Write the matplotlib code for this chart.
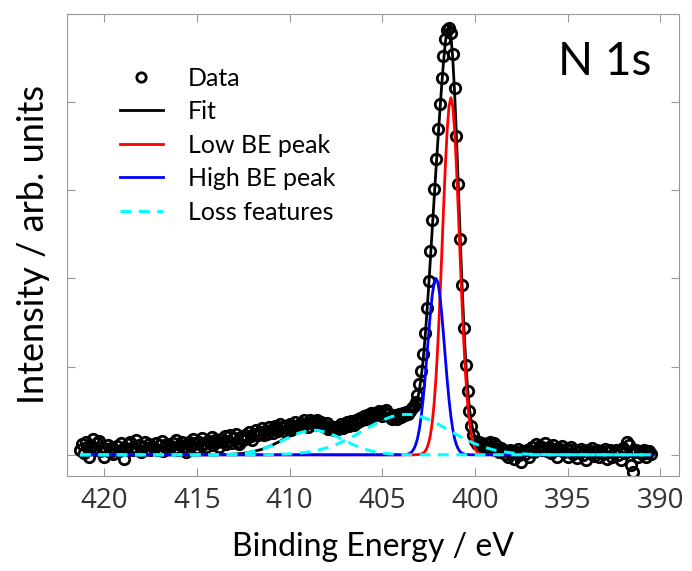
import numpy as np
import matplotlib
matplotlib.use('Agg')
import matplotlib.pyplot as plt

# measured spectrum, 0.1 eV steps from 421.3 down to 390.5 eV
energy = np.round(np.arange(421.3, 390.45, -0.1), 1)
counts = [
    0.05, 0.12, 0.02, 0.15, 0.09, -0.03, 0.10, 0.18, 0.08, 0.13,
    0.16, 0.04, 0.09, -0.02, 0.07, 0.11, 0.03, 0.08, 0.01, 0.06,
    0.10, 0.04, 0.13, 0.07, -0.05, 0.08, 0.12, 0.15, 0.05, 0.09,
    0.17, 0.06, 0.11, 0.03, 0.09, 0.14, 0.07, 0.12, 0.05, 0.10,
    0.08, 0.13, 0.06, 0.11, 0.16, 0.04, 0.09, 0.12, 0.07, 0.10,
    0.13, 0.08, 0.17, 0.05, 0.11, 0.14, 0.09, 0.03, 0.12, 0.15,
    0.10, 0.18, 0.13, 0.08, 0.15, 0.11, 0.19, 0.12, 0.09, 0.16,
    0.13, 0.20, 0.11, 0.17, 0.14, 0.09, 0.18, 0.15, 0.21, 0.12,
    0.16, 0.22, 0.13, 0.19, 0.24, 0.15, 0.12, 0.20, 0.17, 0.23,
    0.19, 0.26, 0.21, 0.17, 0.24, 0.28, 0.22, 0.25, 0.30, 0.23,
    0.27, 0.24, 0.31, 0.28, 0.25, 0.33, 0.30, 0.27, 0.35, 0.31,
    0.27, 0.33, 0.29, 0.35, 0.28, 0.32, 0.37, 0.31, 0.34, 0.36,
    0.33, 0.39, 0.35, 0.32, 0.40, 0.36, 0.38, 0.34, 0.39, 0.35,
    0.37, 0.33, 0.31, 0.36, 0.29, 0.33, 0.30, 0.28, 0.32, 0.29,
    0.31, 0.35, 0.30, 0.34, 0.37, 0.33, 0.38, 0.36, 0.34, 0.39,
    0.37, 0.42, 0.39, 0.44, 0.41, 0.45, 0.42, 0.47, 0.44, 0.48,
    0.46, 0.50, 0.47, 0.44, 0.49, 0.51, 0.46, 0.43, 0.41, 0.45,
    0.44, 0.41, 0.46, 0.43, 0.47, 0.45, 0.49, 0.46, 0.50, 0.53,
    0.55, 0.60, 0.68, 0.80, 0.95, 1.14, 1.38, 1.66, 1.97, 2.31,
    2.66, 3.02, 3.36, 3.69, 3.98, 4.27, 4.52, 4.72, 4.82, 4.84,
    4.78, 4.55, 4.16, 3.62, 3.07, 2.45, 1.93, 1.44, 1.02, 0.72,
    0.50, 0.33, 0.22, 0.16, 0.12, 0.14, 0.10, 0.13, 0.07, 0.09,
    0.12, 0.15, 0.09, 0.13, 0.06, 0.10, 0.03, 0.08, 0.05, 0.01,
    0.04, -0.03, 0.06, 0.02, -0.05, 0.03, 0.07, 0.00, -0.08, 0.04,
    0.01, 0.06, -0.02, 0.04, 0.09, 0.03, 0.12, 0.07, 0.10, 0.05,
    0.08, 0.13, 0.04, 0.09, 0.02, 0.11, 0.06, -0.03, 0.08, 0.05,
    0.10, 0.03, 0.07, -0.02, 0.05, 0.09, 0.01, 0.06, -0.04, 0.03,
    0.07, 0.00, 0.04, -0.06, 0.05, 0.02, 0.08, -0.01, 0.03, 0.06,
    -0.02, 0.04, 0.01, 0.07, -0.05, 0.03, 0.05, -0.03, 0.02, 0.06,
    0.00, 0.04, -0.06, 0.08, 0.02, 0.14, 0.11, -0.12, -0.19, 0.03,
    0.05, -0.02, 0.04, 0.01, 0.06, -0.03, 0.02, 0.04, 0.01,
]

# fit envelope
fit_e = [421.3, 414.5, 414.0, 413.5, 413.0, 412.5, 412.0, 411.5, 411.0, 410.5,
         410.0, 409.5, 409.0, 408.5, 408.0, 407.5, 407.0, 406.5, 406.0, 405.5,
         405.0, 404.5,
         404.0, 403.9, 403.8, 403.7, 403.6, 403.5, 403.4, 403.3, 403.2, 403.1,
         403.0, 402.9, 402.8, 402.7, 402.6, 402.5, 402.4, 402.3, 402.2, 402.1,
         402.0, 401.9, 401.8, 401.7, 401.6, 401.5, 401.4, 401.3, 401.2, 401.1,
         401.0, 400.9, 400.8, 400.7, 400.6, 400.5, 400.4, 400.3, 400.2, 400.1,
         400.0, 399.9, 399.8, 399.7, 399.6, 399.5, 399.4, 399.3, 399.2, 399.1,
         399.0, 398.5, 398.0, 397.5, 397.0, 396.5, 396.0, 390.5]
fit_y = [0.0, 0.0, 0.001, 0.003, 0.008, 0.017, 0.035, 0.062, 0.103, 0.155,
         0.212, 0.266, 0.307, 0.329, 0.334, 0.328, 0.323, 0.327, 0.346, 0.376,
         0.412, 0.442,
         0.461, 0.462, 0.464, 0.467, 0.471, 0.478, 0.492, 0.518, 0.563, 0.632,
         0.735, 0.879, 1.069, 1.306, 1.587, 1.900, 2.235, 2.577, 2.914, 3.246,
         3.566, 3.878, 4.177, 4.450, 4.676, 4.823, 4.857, 4.753, 4.501, 4.111,
         3.613, 3.052, 2.479, 1.935, 1.458, 1.064, 0.755, 0.530, 0.371, 0.266,
         0.198, 0.154, 0.127, 0.109, 0.097, 0.088, 0.079, 0.073, 0.067, 0.061,
         0.056, 0.035, 0.021, 0.012, 0.006, 0.003, 0.001, 0.0]

# low BE component (centre 401.3 eV)
low_e = [421.3] + list(np.round(np.arange(403.3, 399.25, -0.1), 1)) + [390.5]
low_y = [0.0,
         0.0, 0.001, 0.002, 0.004, 0.009, 0.019, 0.038, 0.073, 0.132, 0.228,
         0.376, 0.590, 0.885, 1.264, 1.721, 2.236, 2.769, 3.270, 3.683, 3.955,
         4.05,
         3.955, 3.683, 3.270, 2.769, 2.236, 1.721, 1.264, 0.885, 0.590, 0.376,
         0.228, 0.132, 0.073, 0.038, 0.019, 0.009, 0.004, 0.002, 0.001, 0.0,
         0.0]

# high BE component (centre 402.1 eV)
high_e = [421.3] + list(np.round(np.arange(404.1, 400.05, -0.1), 1)) + [390.5]
high_y = [0.0,
          0.0, 0.0, 0.001, 0.002, 0.005, 0.010, 0.019, 0.036, 0.065, 0.113,
          0.186, 0.292, 0.437, 0.624, 0.850, 1.104, 1.367, 1.615, 1.819, 1.953,
          2.0,
          1.953, 1.819, 1.615, 1.367, 1.104, 0.850, 0.624, 0.437, 0.292, 0.186,
          0.113, 0.065, 0.036, 0.019, 0.010, 0.005, 0.002, 0.001, 0.0, 0.0,
          0.0]

# loss features
loss1_e = [421.3, 414.5, 414.0, 413.5, 413.0, 412.5, 412.0, 411.5, 411.0, 410.5,
           410.0, 409.5, 409.0, 408.5, 408.0, 407.5, 407.0, 406.5, 406.0, 405.5,
           405.0, 404.5, 404.0, 403.5, 390.5]
loss1_y = [0.0, 0.0, 0.001, 0.003, 0.008, 0.017, 0.034, 0.061, 0.100, 0.149,
           0.202, 0.247, 0.275, 0.278, 0.255, 0.212, 0.160, 0.109, 0.068, 0.038,
           0.020, 0.009, 0.004, 0.001, 0.0]
loss2_e = [421.3, 412.0, 411.5, 411.0, 410.5, 410.0, 409.5, 409.0, 408.5, 408.0,
           407.5, 407.0, 406.5, 406.0, 405.5, 405.0, 404.5, 404.0, 403.5, 403.0,
           402.5, 402.0, 401.5, 401.0, 400.5, 400.0, 399.5, 399.0, 398.5, 398.0,
           397.5, 397.0, 396.5, 396.0, 390.5]
loss2_y = [0.0, 0.001, 0.001, 0.003, 0.006, 0.010, 0.019, 0.032, 0.051, 0.079,
           0.116, 0.163, 0.218, 0.278, 0.338, 0.392, 0.433, 0.456, 0.458, 0.439,
           0.401, 0.349, 0.290, 0.230, 0.174, 0.125, 0.086, 0.056, 0.035, 0.021,
           0.012, 0.006, 0.003, 0.001, 0.0]

fig = plt.figure(figsize=(6.92, 5.71), dpi=100)
ax = fig.add_axes([0.0968, 0.1664, 0.8844, 0.8091])

ax.plot(energy, counts, 'o', mfc='none', mec='black', mew=2.0, ms=7.5, label='Data')
ax.plot(fit_e, fit_y, color='black', lw=2, label='Fit')
ax.plot(low_e, low_y, color='red', lw=2, label='Low BE peak')
ax.plot(high_e, high_y, color='blue', lw=2, label='High BE peak')
ax.plot(loss1_e, loss1_y, color='cyan', lw=2.2, ls=(0, (3.5, 2.5)), label='Loss features')
ax.plot(loss2_e, loss2_y, color='cyan', lw=2.2, ls=(0, (3.5, 2.5)))

ax.set_xlim(422, 389)
ax.set_ylim(-0.24, 5.0)
ax.set_xticks([420, 415, 410, 405, 400, 395, 390])
ax.set_yticks([0, 1, 2, 3, 4, 5])
ax.set_yticklabels([])
ax.tick_params(direction='in', top=True, right=True, length=6, width=0.8,
               color='#999999', labelsize=20, labelcolor='#333333', pad=8)
for lab in ax.get_xticklabels():
    lab.set_family('Open Sans')
for s in ax.spines.values():
    s.set_color('#999999')
    s.set_linewidth(0.8)

ax.set_xlabel('Binding Energy / eV', fontsize=23, family='Lato', labelpad=12)
ax.set_ylabel('Intensity / arb. units', fontsize=26, family='Lato', labelpad=4)

ax.text(0.879, 0.896, 'N 1s', transform=ax.transAxes, fontsize=33, family='Lato',
        ha='center', va='center')

ax.legend(loc='upper left', bbox_to_anchor=(0.05, 0.935), frameon=False,
          prop={'family': 'Lato', 'size': 18}, handlelength=1.7,
          labelspacing=0.42, handletextpad=1.0, markerscale=0.9)

fig.savefig('out.png', dpi=100)
